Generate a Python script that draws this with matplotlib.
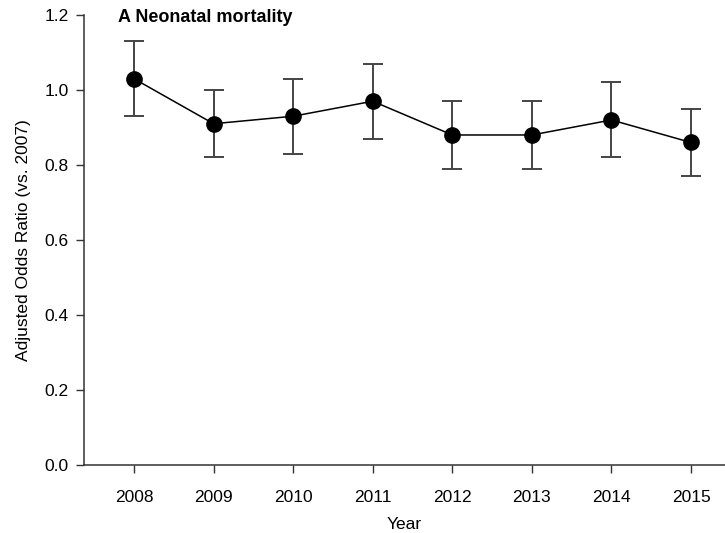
import numpy as np
import matplotlib
matplotlib.use('Agg')
import matplotlib.pyplot as plt

plt.rcParams['font.family'] = ['Liberation Sans', 'DejaVu Sans']

years = [2008, 2009, 2010, 2011, 2012, 2013, 2014, 2015]
aor = [1.03, 0.91, 0.93, 0.97, 0.88, 0.88, 0.92, 0.86]
ci_low = [0.93, 0.82, 0.83, 0.87, 0.79, 0.79, 0.82, 0.77]
ci_high = [1.13, 1.00, 1.03, 1.07, 0.97, 0.97, 1.02, 0.95]


def plot():
    fig = plt.figure(figsize=(7.25, 5.33), dpi=100)
    ax = fig.add_axes([0.1159, 0.1276, 0.8841, 0.8443])

    y = np.array(aor)
    yerr = [y - np.array(ci_low), np.array(ci_high) - y]

    ax.errorbar(years, y, yerr=yerr, fmt='none', ecolor='#444444',
                elinewidth=1.4, capsize=7, capthick=1.4, zorder=2)
    ax.plot(years, y, color='black', lw=1.1, marker='o', ms=11,
            mfc='black', mec='black', zorder=3)

    ax.set_xlim(2007.372, 2015.427)
    ax.set_ylim(0.0, 1.2)
    ax.set_xticks(years)
    ax.set_yticks(np.arange(0.0, 1.21, 0.2))
    ax.set_yticklabels(['%.1f' % v for v in np.arange(0.0, 1.21, 0.2)])

    for s in ['top', 'right']:
        ax.spines[s].set_visible(False)
    for s in ['left', 'bottom']:
        ax.spines[s].set_linewidth(1.1)
        ax.spines[s].set_color('#333333')
    ax.tick_params(direction='out', length=6, width=1.0, colors='#333333',
                   labelsize=12.5, labelcolor='black', pad=5)
    ax.tick_params(axis='x', pad=12)

    ax.set_xlabel('Year', fontsize=12.5, labelpad=9)
    ax.set_ylabel('Adjusted Odds Ratio (vs. 2007)', fontsize=12.5, labelpad=10)
    ax.text(0.053, 0.995, 'A Neonatal mortality', transform=ax.transAxes,
            fontsize=13, fontweight='bold', va='center', ha='left')

    plt.savefig('out.png', dpi=100)


if __name__ == '__main__':
    plot()
